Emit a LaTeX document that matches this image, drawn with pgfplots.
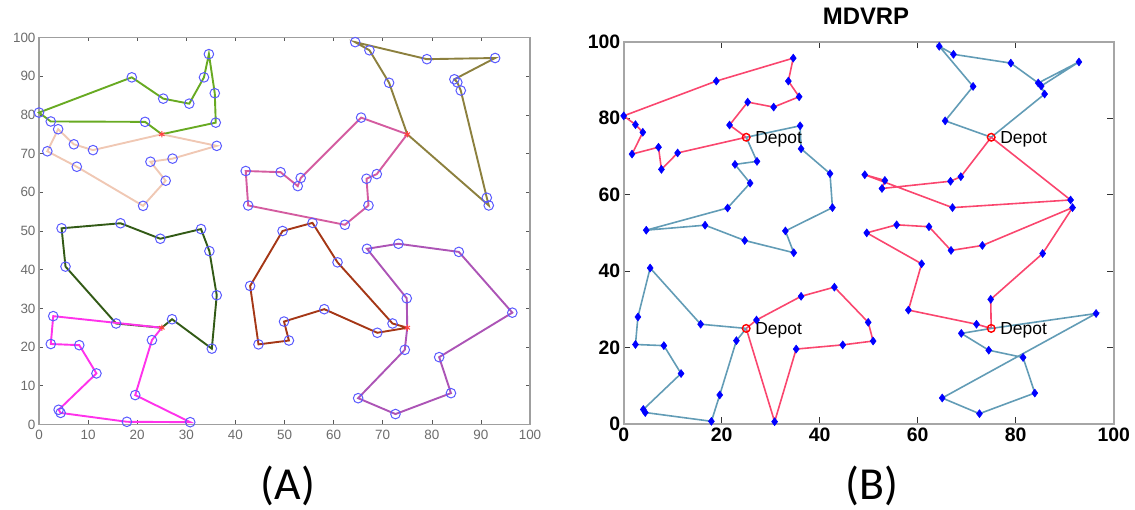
\documentclass[border=0pt]{standalone}
\usepackage{pgfplots}
\pgfplotsset{compat=1.18}
\usepackage{fontspec}
\setmainfont{Liberation Sans}
\newfontfamily\calibri{Carlito}

% route colours, panel A
\definecolor{rLgreen}{RGB}{104,170,34}
\definecolor{rPeach}{RGB}{240,200,180}
\definecolor{rDgreen}{RGB}{50,90,22}
\definecolor{rMagenta}{RGB}{255,50,235}
\definecolor{rOlive}{RGB}{140,128,62}
\definecolor{rPink}{RGB}{212,92,160}
\definecolor{rBrown}{RGB}{165,55,22}
\definecolor{rPurple}{RGB}{172,84,182}
\definecolor{custBlue}{RGB}{90,90,255}
% route colours, panel B
\definecolor{mRed}{RGB}{250,70,110}
\definecolor{mBlue}{RGB}{98,156,182}

\begin{document}
\begin{tikzpicture}
\path[use as bounding box] (0bp,0bp) rectangle (1135bp,510bp);

% ---------------- (A) routes per depot ----------------
\begin{axis}[
  at={(39bp,85.5bp)}, anchor=south west,
  scale only axis, width=491bp, height=387bp,
  xmin=0, xmax=100, ymin=0, ymax=100,
  xtick={0,10,...,100}, ytick={0,10,...,100},
  tick align=inside, major tick length=4bp,
  tick style={gray!70!black, line width=0.6bp},
  axis line style={gray!75, line width=1.2bp},
  clip=false,
  /pgf/number format/assume math mode=true,
  ticklabel style={font=\fontsize{13.5}{14}\selectfont, text=gray!85!black},
  xticklabel style={yshift=-2bp},
  every axis plot/.append style={line width=1.9bp},
]
\addplot[rLgreen] coordinates {(25,75) (21.6,78.2) (2.4,78.3) (0,80.6) (18.9,89.7) (25.3,84.2) (30.6,82.9) (33.6,89.7) (34.6,95.7) (35.8,85.6) (36.0,78.0) (25,75)};
\addplot[rPeach] coordinates {(25,75) (11.0,70.9) (7.1,72.4) (3.9,76.3) (1.7,70.6) (7.7,66.6) (21.2,56.5) (25.8,63.0) (22.7,67.9) (27.2,68.7) (36.2,72.0) (25,75)};
\addplot[rDgreen] coordinates {(25,25) (27.1,27.2) (35.2,19.6) (36.2,33.4) (34.7,44.8) (33.0,50.5) (24.7,48.0) (16.6,52.0) (4.6,50.7) (5.4,40.8) (15.7,26.1) (25,25)};
\addplot[rMagenta] coordinates {(25,25) (2.9,28.0) (2.4,20.8) (8.2,20.5) (11.7,13.2) (4.0,3.8) (4.4,3.0) (17.9,0.7) (30.8,0.6) (19.6,7.6) (23.0,21.8) (25,25)};
\addplot[rOlive] coordinates {(75,75) (71.3,88.3) (67.3,96.7) (64.4,98.8) (79.0,94.4) (92.9,94.7) (84.6,89.2) (85.2,88.4) (85.9,86.3) (91.2,58.6) (91.6,56.6) (75,75)};
\addplot[rPink] coordinates {(75,75) (65.6,79.3) (53.3,63.7) (52.7,61.6) (49.2,65.2) (42.1,65.5) (42.6,56.6) (62.3,51.6) (67.1,56.6) (66.7,63.5) (68.8,64.7) (75,75)};
\addplot[rBrown] coordinates {(75,25) (72.0,26.1) (60.8,41.9) (55.7,52.1) (49.6,50.0) (43.0,35.8) (44.7,20.7) (50.9,21.7) (49.9,26.6) (58.1,29.8) (68.9,23.7) (75,25)};
\addplot[rPurple] coordinates {(75,25) (74.9,32.6) (66.8,45.4) (73.2,46.7) (85.5,44.6) (96.4,28.9) (81.5,17.4) (83.9,8.1) (72.6,2.7) (65.0,6.8) (74.5,19.3) (75,25)};
% customers
\addplot[only marks, mark=o, mark size=4.8bp, mark options={draw=custBlue, line width=1bp}] coordinates {
(21.6,78.2) (2.4,78.3) (0,80.6) (18.9,89.7) (25.3,84.2) (30.6,82.9) (33.6,89.7) (34.6,95.7) (35.8,85.6) (36.0,78.0)
(11.0,70.9) (7.1,72.4) (3.9,76.3) (1.7,70.6) (7.7,66.6) (21.2,56.5) (25.8,63.0) (22.7,67.9) (27.2,68.7) (36.2,72.0)
(27.1,27.2) (35.2,19.6) (36.2,33.4) (34.7,44.8) (33.0,50.5) (24.7,48.0) (16.6,52.0) (4.6,50.7) (5.4,40.8) (15.7,26.1)
(2.9,28.0) (2.4,20.8) (8.2,20.5) (11.7,13.2) (4.0,3.8) (4.4,3.0) (17.9,0.7) (30.8,0.6) (19.6,7.6) (23.0,21.8)
(71.3,88.3) (67.3,96.7) (64.4,98.8) (79.0,94.4) (92.9,94.7) (84.6,89.2) (85.2,88.4) (85.9,86.3) (91.2,58.6) (91.6,56.6)
(65.6,79.3) (53.3,63.7) (52.7,61.6) (49.2,65.2) (42.1,65.5) (42.6,56.6) (62.3,51.6) (67.1,56.6) (66.7,63.5) (68.8,64.7)
(72.0,26.1) (60.8,41.9) (55.7,52.1) (49.6,50.0) (43.0,35.8) (44.7,20.7) (50.9,21.7) (49.9,26.6) (58.1,29.8) (68.9,23.7)
(74.9,32.6) (66.8,45.4) (73.2,46.7) (85.5,44.6) (96.4,28.9) (81.5,17.4) (83.9,8.1) (72.6,2.7) (65.0,6.8) (74.5,19.3)};
% depots
\addplot[only marks, mark=asterisk, mark size=3.2bp, mark options={draw=red!75, line width=1bp}] coordinates {(25,75) (75,75) (25,25) (75,25)};
\end{axis}

% ---------------- (B) MDVRP solution ----------------
\begin{axis}[
  at={(623.7bp,86bp)}, anchor=south west,
  scale only axis, width=490bp, height=382.3bp,
  xmin=0, xmax=100, ymin=0, ymax=100,
  xtick={0,20,...,100}, ytick={0,20,...,100},
  tick align=inside, major tick length=6.5bp,
  tick style={black!80, line width=0.8bp},
  axis line style={gray!70, line width=1.8bp},
  clip=false,
  /pgf/number format/assume math mode=true,
  ticklabel style={font=\bfseries\fontsize{19.5}{20}\selectfont},
  every axis plot/.append style={line width=1.6bp},
]
\addplot[mRed] coordinates {(25,75) (21.6,78.2) (25.3,84.2) (30.6,82.9) (35.8,85.6) (33.6,89.7) (34.6,95.7) (18.9,89.7) (0,80.6) (2.4,78.3) (3.9,76.3) (1.7,70.6) (7.1,72.4) (7.7,66.6) (11.0,70.9) (25,75)};
\addplot[mBlue] coordinates {(25,75) (27.2,68.7) (22.7,67.9) (25.8,63.0) (21.2,56.5) (4.6,50.7) (16.6,52.0) (24.7,48.0) (34.7,44.8) (33.0,50.5) (42.6,56.6) (42.1,65.5) (36.2,72.0) (36.0,78.0) (25,75)};
\addplot[mRed] coordinates {(25,25) (27.1,27.2) (36.2,33.4) (43.0,35.8) (49.9,26.6) (50.9,21.7) (44.7,20.7) (35.2,19.6) (30.8,0.6) (25,25)};
\addplot[mBlue] coordinates {(25,25) (15.7,26.1) (5.4,40.8) (2.9,28.0) (2.4,20.8) (8.2,20.5) (11.7,13.2) (4.0,3.8) (4.4,3.0) (17.9,0.7) (19.6,7.6) (23.0,21.8) (25,25)};
\addplot[mBlue] coordinates {(75,75) (65.6,79.3) (71.3,88.3) (64.4,98.8) (67.3,96.7) (79.0,94.4) (84.6,89.2) (92.9,94.7) (85.2,88.4) (85.9,86.3) (75,75)};
\addplot[mRed] coordinates {(75,75) (68.8,64.7) (66.7,63.5) (52.7,61.6) (53.3,63.7) (49.2,65.2) (67.1,56.6) (91.2,58.6) (75,75)};
\addplot[mRed] coordinates {(75,25) (74.9,32.6) (85.5,44.6) (91.6,56.6) (73.2,46.7) (66.8,45.4) (62.3,51.6) (55.7,52.1) (49.6,50.0) (60.8,41.9) (58.1,29.8) (72.0,26.1) (75,25)};
\addplot[mBlue] coordinates {(75,25) (96.4,28.9) (65.0,6.8) (72.6,2.7) (83.9,8.1) (81.5,17.4) (74.5,19.3) (68.9,23.7) (75,25)};
% customers
\addplot[only marks, mark=diamond*, mark size=4bp, mark options={draw=blue, fill=blue, line width=0.5bp}] coordinates {
(21.6,78.2) (2.4,78.3) (0,80.6) (18.9,89.7) (25.3,84.2) (30.6,82.9) (33.6,89.7) (34.6,95.7) (35.8,85.6) (36.0,78.0)
(11.0,70.9) (7.1,72.4) (3.9,76.3) (1.7,70.6) (7.7,66.6) (21.2,56.5) (25.8,63.0) (22.7,67.9) (27.2,68.7) (36.2,72.0)
(27.1,27.2) (35.2,19.6) (36.2,33.4) (34.7,44.8) (33.0,50.5) (24.7,48.0) (16.6,52.0) (4.6,50.7) (5.4,40.8) (15.7,26.1)
(2.9,28.0) (2.4,20.8) (8.2,20.5) (11.7,13.2) (4.0,3.8) (4.4,3.0) (17.9,0.7) (30.8,0.6) (19.6,7.6) (23.0,21.8)
(71.3,88.3) (67.3,96.7) (64.4,98.8) (79.0,94.4) (92.9,94.7) (84.6,89.2) (85.2,88.4) (85.9,86.3) (91.2,58.6) (91.6,56.6)
(65.6,79.3) (53.3,63.7) (52.7,61.6) (49.2,65.2) (42.1,65.5) (42.6,56.6) (62.3,51.6) (67.1,56.6) (66.7,63.5) (68.8,64.7)
(72.0,26.1) (60.8,41.9) (55.7,52.1) (49.6,50.0) (43.0,35.8) (44.7,20.7) (50.9,21.7) (49.9,26.6) (58.1,29.8) (68.9,23.7)
(74.9,32.6) (66.8,45.4) (73.2,46.7) (85.5,44.6) (96.4,28.9) (81.5,17.4) (83.9,8.1) (72.6,2.7) (65.0,6.8) (74.5,19.3)};
% depots
\addplot[only marks, mark=o, mark size=3.8bp, mark options={draw=red, line width=1.4bp}] coordinates {(25,75) (75,75) (25,25) (75,25)};
\foreach \dx/\dy in {25/75, 75/75, 25/25, 75/25} {
  \edef\temp{\noexpand\node[anchor=base west, inner sep=0pt, xshift=9bp, yshift=-6.2bp, font=\noexpand\fontsize{17.5}{18}\noexpand\selectfont] at (axis cs:\dx,\dy) {Depot};}
  \temp
}
\end{axis}

\node[font=\bfseries\fontsize{24}{24}\selectfont] at (866bp,494bp) {MDVRP};
\node[font=\calibri\fontsize{46}{46}\selectfont] at (288bp,24bp) {(A)};
\node[font=\calibri\fontsize{46}{46}\selectfont] at (872bp,24bp) {(B)};
\end{tikzpicture}
\end{document}
